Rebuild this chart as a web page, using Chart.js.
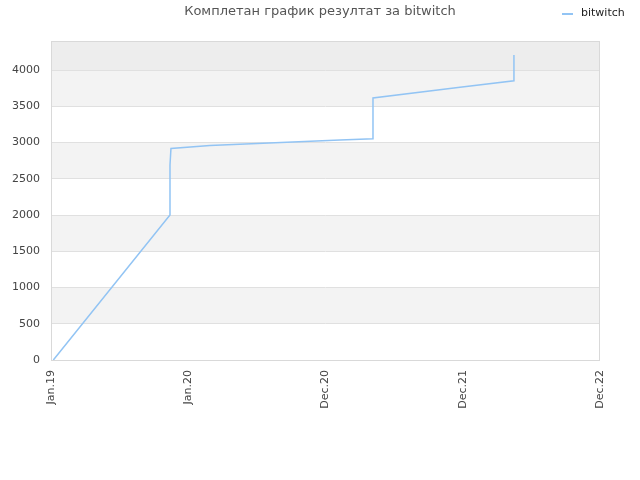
<!DOCTYPE html>
<html>
<head>
<meta charset="utf-8">
<script src="https://cdn.jsdelivr.net/npm/chart.js@4/dist/chart.umd.min.js"></script>
<style>
  html, body { margin: 0; padding: 0; background: #fff; }
  #wrap { width: 640px; height: 480px; }
</style>
</head>
<body>
<div id="wrap"><canvas id="chart" width="640" height="480"></canvas></div>
<script>
  // ── Data ────────────────────────────────────────────────────────────────
  const titleText = 'Комплетан график резултат за bitwitch';
  const seriesName = 'bitwitch';
  const xTickLabels = ['Jan.19', 'Jan.20', 'Dec.20', 'Dec.21', 'Dec.22'];
  const yTickValues = [0, 500, 1000, 1500, 2000, 2500, 3000, 3500, 4000];
  // x is measured in label intervals (0 = Jan.19 … 4 = Dec.22)
  const xPositions = [0.017, 0.867, 0.867, 0.874, 1.158, 2.106, 2.346, 2.346, 2.98, 3.373, 3.373];
  const scores     = [0,     2000,  2690,  2917,  2960,  3034,  3052,  3614,  3761, 3852,  4207];

  const LINE_COLOR = '#92c4f4';
  const FONT = "'DejaVu Sans', sans-serif";

  // Alternating horizontal bands + frame + title/legend
  const decor = {
    id: 'decor',
    beforeDraw(chart) {
      const { ctx, chartArea: a, scales: { y } } = chart;
      ctx.save();
      const edges = [...yTickValues, y.max];
      for (let i = 0; i < edges.length - 1; i++) {
        const top = y.getPixelForValue(edges[i + 1]);
        const bot = y.getPixelForValue(edges[i]);
        let fill = i % 2 === 1 ? '#f3f3f3' : '#ffffff';
        if (i === edges.length - 2) fill = '#ededed';
        ctx.fillStyle = fill;
        ctx.fillRect(a.left, top, a.right - a.left, bot - top);
      }
      ctx.restore();
    },
    afterDraw(chart) {
      const { ctx, chartArea: a } = chart;
      ctx.save();
      ctx.strokeStyle = '#d9d9d9';
      ctx.lineWidth = 1;
      ctx.strokeRect(a.left + 0.5, a.top + 0.5, a.right - a.left - 1, a.bottom - a.top);

      ctx.fillStyle = '#555';
      ctx.font = '13px ' + FONT;
      ctx.textAlign = 'center';
      ctx.textBaseline = 'middle';
      ctx.fillText(titleText, 320, 12);

      ctx.strokeStyle = LINE_COLOR;
      ctx.lineWidth = 2;
      ctx.beginPath();
      ctx.moveTo(562, 14);
      ctx.lineTo(573, 14);
      ctx.stroke();
      ctx.fillStyle = '#222';
      ctx.font = '11px ' + FONT;
      ctx.textAlign = 'left';
      ctx.fillText(seriesName, 581, 13);
      ctx.restore();
    },
  };

  new Chart(document.getElementById('chart'), {
    type: 'line',
    data: {
      datasets: [{
        label: seriesName,
        data: xPositions.map((x, i) => ({ x, y: scores[i] })),
        borderColor: LINE_COLOR,
        borderWidth: 1.5,
        pointRadius: 0,
        fill: false,
        tension: 0,
      }],
    },
    options: {
      responsive: false,
      animation: false,
      layout: { padding: { top: 41, right: 40, left: 0, bottom: 0 } },
      plugins: {
        legend: { display: false },
        title: { display: false },
        tooltip: { enabled: false },
      },
      scales: {
        x: {
          type: 'linear',
          min: 0,
          max: 4,
          afterFit: (s) => { s.height = 120; },
          afterBuildTicks: (s) => { s.ticks = xTickLabels.map((_, i) => ({ value: i })); },
          ticks: {
            callback: (v) => xTickLabels[v] ?? '',
            minRotation: 90,
            maxRotation: 90,
            padding: 10,
            color: '#444',
            font: { family: FONT, size: 11 },
            autoSkip: false,
          },
          grid: { display: false, drawTicks: false },
          border: { display: false },
        },
        y: {
          min: 0,
          max: 4400,
          afterFit: (s) => { s.width = 51; },
          afterBuildTicks: (s) => { s.ticks = yTickValues.map((value) => ({ value })); },
          ticks: {
            callback: (v) => String(v),
            padding: 11,
            color: '#444',
            font: { family: FONT, size: 11 },
            autoSkip: false,
          },
          grid: { color: '#e0e0e0', drawTicks: false },
          border: { display: false },
        },
      },
    },
    plugins: [decor],
  });
</script>
</body>
</html>
